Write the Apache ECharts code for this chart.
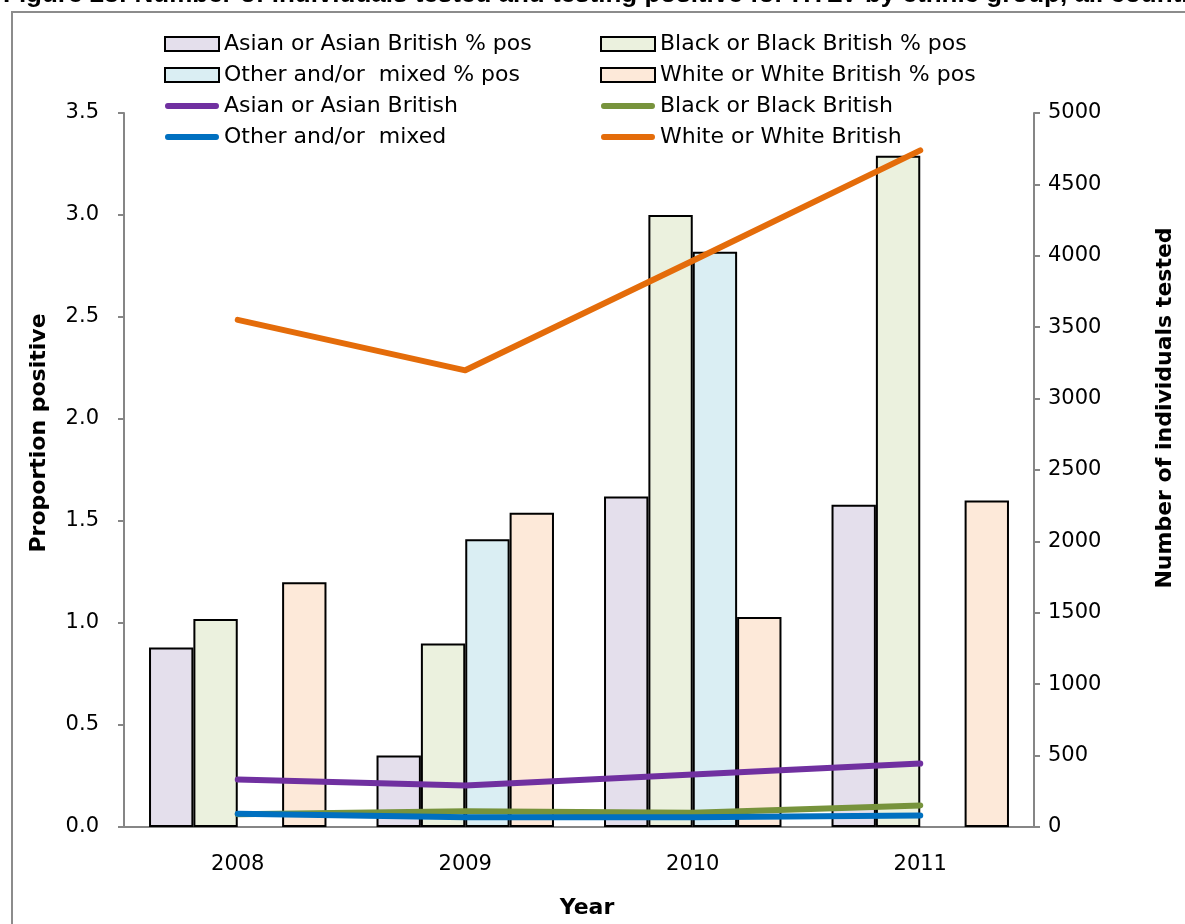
<!DOCTYPE html>
<html>
<head>
<meta charset="utf-8">
<script src="https://cdn.jsdelivr.net/npm/echarts@6/dist/echarts.min.js"></script>
<style>
html,body{margin:0;padding:0;background:#fff;}
#chart{width:1185px;height:924px;}
</style>
</head>
<body>
<div id="chart"></div>
<script>
const years = ['2008', '2009', '2010', '2011'];
const asianPos = [0.88, 0.35, 1.62, 1.58];
const blackPos = [1.02, 0.90, 3.00, 3.29];
const otherPos = ['-', 1.41, 2.82, '-'];
const whitePos = [1.20, 1.54, 1.03, 1.60];
const asianTested = [332, 290, 368, 444];
const blackTested = [90, 110, 100, 151];
const otherTested = [92, 68, 68, 80];
const whiteTested = [3551, 3198, 3965, 4738];

const FONT = 'DejaVu Sans';
const LINE_ICON = 'path://M3,0 L53,0 A3,3 0 0 1 53,6 L3,6 A3,3 0 0 1 3,0 Z';
const chart = echarts.init(document.getElementById('chart'));

function barSeries(name, data, color) {
  return {
    name: name, type: 'bar', data: data, yAxisIndex: 0,
    barGap: '0%', barCategoryGap: '22%',
    itemStyle: {color: color, borderColor: '#000', borderWidth: 2},
    z: 2
  };
}
function lineSeries(name, data, color) {
  return {
    name: name, type: 'line', data: data, yAxisIndex: 1,
    symbol: 'none', smooth: false,
    lineStyle: {color: color, width: 6, cap: 'round', join: 'round'},
    itemStyle: {color: color, borderWidth: 0},
    z: 5
  };
}
const legendText = {fontFamily: FONT, fontSize: 22, color: '#000', lineHeight: 22};
function barItem(n) { return {name: n, icon: 'rect'}; }
function lineItem(n) { return {name: n, icon: LINE_ICON, itemStyle: {borderWidth: 0}}; }

chart.setOption({
  animation: false,
  backgroundColor: '#fff',
  graphic: [
    {type: 'rect', shape: {x: 12, y: 12, width: 1250, height: 1000},
     style: {fill: 'none', stroke: '#8c8c8c', lineWidth: 2}, z: -1},
    {type: 'text', x: 3, y: 8,
     style: {text: 'Figure 23: Number of individuals tested and testing positive for HTLV by ethnic group, all countries',
             font: 'bold 26px "Liberation Sans", Arial, sans-serif', fill: '#000', verticalAlign: 'bottom'}}
  ],
  grid: {left: 124, right: 151, top: 113, bottom: 92.5, containLabel: false},
  legend: [
    {left: 159, top: 28, orient: 'vertical', itemGap: 9, itemWidth: 54, itemHeight: 14,
     textStyle: legendText, selectedMode: false, symbolKeepAspect: true,
     data: [barItem('Asian or Asian British % pos'), barItem('Other and/or  mixed % pos'),
            lineItem('Asian or Asian British'), lineItem('Other and/or  mixed')]},
    {left: 595, top: 28, orient: 'vertical', itemGap: 9, itemWidth: 54, itemHeight: 14,
     textStyle: legendText, selectedMode: false, symbolKeepAspect: true,
     data: [barItem('Black or Black British % pos'), barItem('White or White British % pos'),
            lineItem('Black or Black British'), lineItem('White or White British')]}
  ],
  xAxis: {
    type: 'category', data: years,
    name: 'Year', nameLocation: 'middle', nameGap: 70,
    nameTextStyle: {fontFamily: FONT, fontSize: 22, fontWeight: 'bold', color: '#000', padding: [0, 0, 0, 16]},
    axisLine: {lineStyle: {color: '#868686', width: 2}},
    axisTick: {show: false},
    axisLabel: {fontFamily: FONT, fontSize: 21, color: '#000', margin: 27}
  },
  yAxis: [
    {
      type: 'value', min: 0, max: 3.5, interval: 0.5, position: 'left',
      name: 'Proportion positive', nameLocation: 'middle', nameGap: 74, nameRotate: 90,
      nameTextStyle: {fontFamily: FONT, fontSize: 22, fontWeight: 'bold', color: '#000', padding: [0, 0, 0, 74]},
      axisLine: {show: true, lineStyle: {color: '#868686', width: 2}},
      axisTick: {show: true, length: 6, lineStyle: {color: '#868686', width: 2}},
      splitLine: {show: false},
      axisLabel: {fontFamily: FONT, fontSize: 21, color: '#000', margin: 25,
                  formatter: v => v.toFixed(1)}
    },
    {
      type: 'value', min: 0, max: 5000, interval: 500, position: 'right',
      name: 'Number of individuals tested', nameLocation: 'middle', nameGap: 120, nameRotate: 90,
      nameTextStyle: {fontFamily: FONT, fontSize: 22, fontWeight: 'bold', color: '#000', padding: [0, 0, 0, 124]},
      axisLine: {show: true, lineStyle: {color: '#868686', width: 2}},
      axisTick: {show: true, length: 6, lineStyle: {color: '#868686', width: 2}},
      splitLine: {show: false},
      axisLabel: {fontFamily: FONT, fontSize: 21, color: '#000', margin: 14,
                  formatter: v => String(v)}
    }
  ],
  series: [
    barSeries('Asian or Asian British % pos', asianPos, '#E4DFEC'),
    barSeries('Black or Black British % pos', blackPos, '#EBF1DE'),
    barSeries('Other and/or  mixed % pos', otherPos, '#DAEEF3'),
    barSeries('White or White British % pos', whitePos, '#FDE9D9'),
    lineSeries('Asian or Asian British', asianTested, '#7030A0'),
    lineSeries('Black or Black British', blackTested, '#77933C'),
    lineSeries('Other and/or  mixed', otherTested, '#0070C0'),
    lineSeries('White or White British', whiteTested, '#E46C0A')
  ]
});
</script>
</body>
</html>
